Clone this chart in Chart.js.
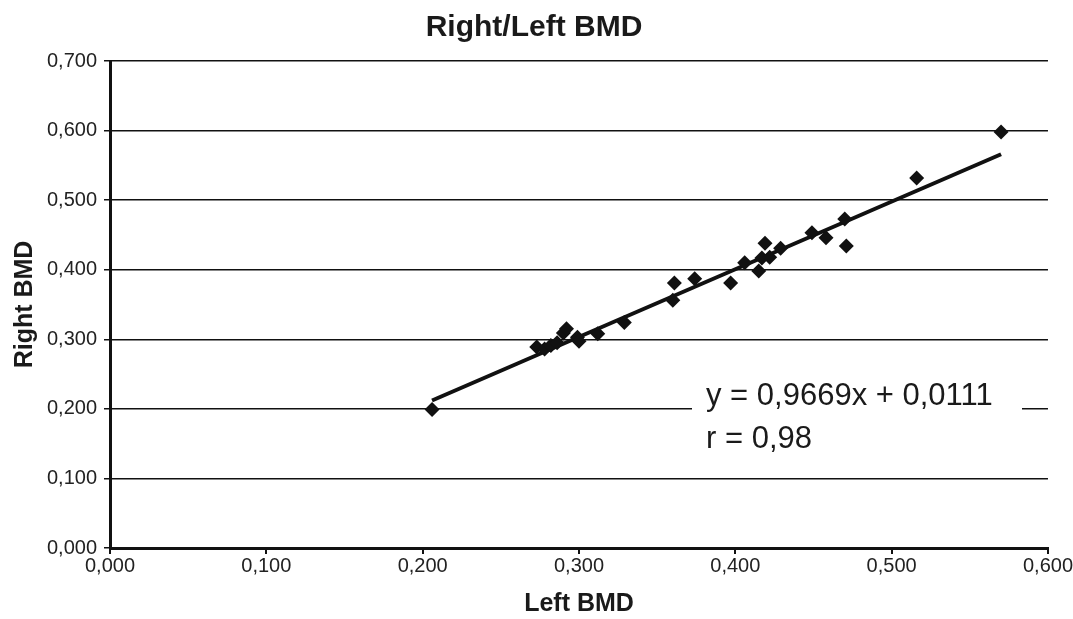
<!DOCTYPE html>
<html>
<head>
<meta charset="utf-8">
<script src="https://cdn.jsdelivr.net/npm/chart.js@4/dist/chart.umd.min.js"></script>
<style>
  html, body { margin: 0; padding: 0; background: #fff; }
  #wrap { width: 1073px; height: 619px; position: relative; }
</style>
</head>
<body>
<div id="wrap"><canvas id="bmd" width="1073" height="619"></canvas></div>
<script>
// readings (Left BMD, Right BMD)
const leftBmd = [0.206, 0.273, 0.278, 0.282, 0.286, 0.290, 0.292, 0.299, 0.300, 0.312, 0.329,
  0.360, 0.361, 0.374, 0.397, 0.406, 0.415, 0.417, 0.419, 0.422, 0.429, 0.449, 0.458,
  0.470, 0.471, 0.516, 0.570];
const rightBmd = [0.199, 0.289, 0.286, 0.291, 0.295, 0.309, 0.315, 0.303, 0.297, 0.308, 0.324,
  0.356, 0.381, 0.387, 0.381, 0.410, 0.398, 0.417, 0.438, 0.418, 0.431, 0.453, 0.446,
  0.473, 0.434, 0.532, 0.598];
const trendX = [0.206, 0.570];
const trendY = [0.212, 0.566];
const yTicks = [0, 0.1, 0.2, 0.3, 0.4, 0.5, 0.6, 0.7];
const xTicks = [0, 0.1, 0.2, 0.3, 0.4, 0.5, 0.6];
const equationText = "y = 0,9669x + 0,0111";
const rText = "r = 0,98";

const FONT = "'Liberation Sans', Arial, sans-serif";
const fmt = (v) => v.toFixed(3).replace(".", ",");

const headerAndNote = {
  id: "headerAndNote",
  afterDraw(chart) {
    const ctx = chart.ctx;
    ctx.save();
    ctx.fillStyle = "#1a1a1a";
    ctx.font = "bold 30px " + FONT;
    ctx.textAlign = "center";
    ctx.textBaseline = "middle";
    ctx.fillText("Right/Left BMD", 534, 28);

    // label box over the gridline
    ctx.fillStyle = "#fff";
    ctx.fillRect(692, 372, 330, 90);
    ctx.fillStyle = "#1a1a1a";
    ctx.font = "31px " + FONT;
    ctx.textAlign = "left";
    ctx.fillText(equationText, 706, 396);
    ctx.fillText(rText, 706, 439);
    ctx.restore();
  },
};

new Chart(document.getElementById("bmd"), {
  type: "scatter",
  data: {
    datasets: [
      {
        data: leftBmd.map((x, i) => ({ x, y: rightBmd[i] })),
        pointStyle: "rectRot",
        pointRadius: 7.5,
        backgroundColor: "#111",
        borderColor: "#111",
        borderWidth: 0,
      },
      {
        type: "line",
        data: trendX.map((x, i) => ({ x, y: trendY[i] })),
        borderColor: "#111",
        borderWidth: 4,
        pointRadius: 0,
        fill: false,
      },
    ],
  },
  options: {
    responsive: false,
    animation: false,
    layout: { padding: { top: 61, right: 25, left: 0, bottom: 0 } },
    plugins: { legend: { display: false }, tooltip: { enabled: false } },
    scales: {
      x: {
        type: "linear",
        min: 0,
        max: 0.6,
        afterBuildTicks: (s) => { s.ticks = xTicks.map((v) => ({ value: v })); },
        afterFit: (s) => { s.height = 71; },
        ticks: { callback: fmt, color: "#222", font: { family: FONT, size: 20 }, padding: 0, maxRotation: 0 },
        grid: { drawOnChartArea: false, drawTicks: true, tickLength: 6, color: "#111", lineWidth: 2 },
        border: { color: "#111", width: 3 },
        title: { display: true, text: "Left BMD", color: "#1a1a1a", font: { family: FONT, size: 25, weight: "bold" }, padding: { top: 0, bottom: 0 } },
      },
      y: {
        type: "linear",
        min: 0,
        max: 0.7,
        afterBuildTicks: (s) => { s.ticks = yTicks.map((v) => ({ value: v })); },
        afterFit: (s) => { s.width = 110; },
        ticks: { callback: fmt, color: "#222", font: { family: FONT, size: 20 }, padding: 7 },
        grid: { color: "#111", lineWidth: 1.5, tickLength: 6 },
        border: { color: "#111", width: 3 },
        title: { display: true, text: "Right BMD", color: "#1a1a1a", font: { family: FONT, size: 25, weight: "bold" }, padding: { top: 10, bottom: 0 } },
      },
    },
  },
  plugins: [headerAndNote],
});
</script>
</body>
</html>
